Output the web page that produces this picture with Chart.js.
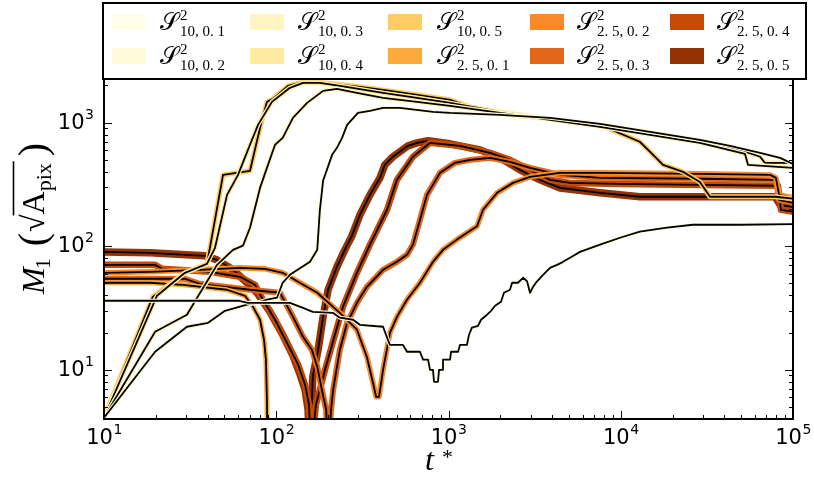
<!DOCTYPE html>
<html>
<head>
<meta charset="utf-8">
<script src="https://cdn.jsdelivr.net/npm/chart.js@4.4.1/dist/chart.umd.min.js"></script>
<style>
  html, body { margin: 0; padding: 0; background: #fff; }
  #chart { display: block; }
</style>
</head>
<body>
<canvas id="chart" width="814" height="481"></canvas>
<script>
// M1 against t* for each run, [t*, M1] pairs
const s10_01 = [[10,36.2],[60,36.2],[68.5,34.8],[120,34.8],[143,31.7],[163,29.4],[213,28.9],[234,26.4],[279,25.4],[306,23.1],[417,22.3],[440,18.2],[457,15.9],[544,15.9],[574,14.0],[683,14.0],[712,12.1],[761,12.1],[781,10.0],[813,10.0],[824,8.0],[869,8.0],[881,10.0],[917,10.0],[929,12.1],[1021,12.1],[1035,14.0],[1136,14.0],[1167,15.9],[1280,15.9],[1315,19.2],[1368,21.9],[1483,22.7],[1545,25.4],[1674,27.9],[1767,30.0],[1864,33.0],[2018,35.5],[2099,42.0],[2275,44.4],[2339,50.6],[2532,50.6],[2709,55.5],[2858,52],[2974,42],[3097,46.9],[3267,52],[3540,58.7],[3885,66.8],[4268,70.6],[4624,74.7],[5075,80.5],[5800,89.9],[7580,103],[9900,117],[12900,131],[18550,141],[26200,149],[49200,149],[100000,151]];
const s10_02 = [[10,4.1],[19.8,14.0],[30.3,22.3],[40.2,24.0],[50.4,30.0],[67.6,33.6],[77.3,34.8],[88.3,36.9],[101,38.3],[109,50.6],[120,58.7],[157,74.7],[173,93.4],[179,193],[187,338],[211,548],[225,624],[241,752],[258,958],[298,1198],[350,1244],[417,1315],[522,1315],[813,1222],[1021,1198],[1992,1154],[3885,1091],[7576,976],[14800,841],[28800,725],[43100,648],[64400,569],[84100,518],[100000,463]];
const s10_03 = [[10,4.1],[19.8,20.3],[30.3,27.9],[34.7,38.3],[41.2,56.5],[45.3,70.6],[56.1,93.4],[64.1,101],[70.4,141],[80.5,296],[88.3,430],[98.4,661],[109,752],[125,1091],[151,1443],[187,1803],[225,1874],[294,1738],[417,1585],[656,1469],[1021,1364],[1992,1198],[3885,1051],[7576,923],[14800,796],[28800,685],[52600,558],[54800,455],[100000,430]];
const s10_04 = [[10,4.1],[20.3,39.7],[29.5,60.9],[39.6,72.0],[44.1,97],[51.8,260],[60,377],[70.4,661],[78.4,958],[94.4,1469],[120,1910],[143,2094],[179,2094],[234,1982],[417,1738],[656,1585],[1021,1443],[1992,1222],[3885,1071],[7576,958],[14800,826],[28800,712],[49300,601],[64400,529],[68700,472],[100000,472]];
const s10_05 = [[10,4.1],[19.2,38.9],[29.5,60.9],[39.6,72.0],[41.2,97],[49.1,377],[70.4,407],[80.5,906],[88.3,1469],[95.7,1554],[117,1982],[137,2094],[168,2132],[214,2056],[306,1944],[417,1838],[656,1676],[1021,1527],[1334,1339],[2277,1154],[4440,1051],[7576,958],[12900,699],[14800,580],[17600,455],[23000,399],[28800,331],[33000,251],[78700,251],[100000,242]];
const s25_01 = [[10,50.6],[18.5,50.6],[28.8,48.7],[51.8,44.4],[65.9,39.7],[73.3,32.3],[80.5,25.4],[84.9,17.5],[87.1,12.1],[88.3,5.7],[89.5,1]];
const s25_02 = [[10,60.9],[18.5,62.0],[36,64.4],[61.6,66.8],[86.1,65.6],[109,60.9],[137,50.6],[173,42.0],[234,28.9],[294,21.1],[336,12.7],[364,7.9],[380,6.05],[395,6.05],[417,10.0],[457,19.9],[502,26.8],[574,36.9],[683,50.6],[813,74.7],[929,93.4],[1119,113],[1464,145],[1587,197],[1914,270],[2368,325],[2974,364],[4440,392],[7576,392],[28800,385],[73600,377],[79600,357],[83000,260],[100000,246]];
const s25_03 = [[10,54.5],[29.5,54.5],[36,49.6],[50.4,46.9],[70.4,44.4],[105,42.0],[125,26.8],[143,18.5],[161,14.5],[173,10.6],[184,6.9],[195,4.75],[200,2],[208,4.75],[214,6.9],[234,14.5],[258,24.0],[294,34.8],[336,46.9],[417,64.4],[502,74.7],[574,85.1],[622,103],[683,163],[750,260],[893,392],[1092,472],[1334,499],[1743,518],[2277,481],[2974,430],[4440,377],[7576,357],[28800,351],[79600,344],[83000,237],[100000,224]];
const s25_04 = [[10,70.6],[19.8,70.6],[21.7,65.6],[41.2,62.0],[61.6,56.5],[75.3,48.7],[83.7,36.9],[98.4,25.4],[117,15.9],[134,11.0],[147,7.57],[155,5.22],[159,2],[170,5.22],[192,10.0],[219,19.2],[244,32.3],[294,60.9],[350,103],[440,197],[502,344],[622,529],[781,685],[1167,648],[1743,569],[2277,499],[2974,414],[3885,344],[5075,325],[9900,319],[28800,313],[81800,308],[85100,197],[100000,190]];
const s25_05 = [[10,89.9],[18.5,88.3],[38.5,83.6],[45.3,77.5],[56.1,64.4],[67.6,50.6],[77.3,42.0],[92,29.4],[109,19.2],[125,13.0],[137,9.3],[147,6.9],[153,4.75],[157,2],[161,5.7],[163,8.8],[175,14.5],[187,26.8],[200,44.4],[225,68.1],[250,93.4],[275,121],[306,179],[350,260],[400,357],[427,455],[476,529],[522,580],[582,648],[656,685],[761,712],[1021,673],[1525,601],[1992,518],[2602,414],[3399,344],[4440,296],[7576,270],[12900,251],[28800,251],[78700,251],[84100,216],[100000,208]];

const runs = [s10_01, s10_02, s10_03, s10_04, s10_05, s25_01, s25_02, s25_03, s25_04, s25_05];
const runSubscripts = ['10, 0. 1', '10, 0. 2', '10, 0. 3', '10, 0. 4', '10, 0. 5',
                       '2. 5, 0. 1', '2. 5, 0. 2', '2. 5, 0. 3', '2. 5, 0. 4', '2. 5, 0. 5'];
const runColors = ['#fffee8', '#fffbda', '#fff5c2', '#feeaa0', '#fecb64',
                   '#fdaa3c', '#f88a2c', '#e3671b', '#c44b07', '#943405'];
const haloWidths = [4, 4, 4.5, 4.5, 5, 5, 5.5, 6, 6.5, 7.5];

const xDecades = [10, 100, 1000, 10000, 100000];
const xExponents = ['1', '2', '3', '4', '5'];
const yDecades = [10, 100, 1000];
const yExponents = ['1', '2', '3'];

const X_MIN = 10, X_MAX = 1e5, Y_MIN = 4, Y_MAX = 2250;

// each run: wide coloured stroke with a thin black core; darkest runs go down first
const datasets = [];
for (let i = runs.length - 1; i >= 0; i--) {
  const pts = runs[i].map(([t, m]) => ({ x: t, y: m }));
  const common = { data: pts, pointRadius: 0, pointHoverRadius: 0, tension: 0, fill: false,
                   clip: 0, borderJoinStyle: 'round', borderCapStyle: 'round' };
  datasets.push(Object.assign({ borderColor: runColors[i], borderWidth: haloWidths[i] }, common));
  datasets.push(Object.assign({ borderColor: '#000', borderWidth: 1.8 }, common));
}
datasets.forEach((d, k) => { d.order = datasets.length - k; });

const SERIF = '"Liberation Serif", "DejaVu Serif", serif';
const SANS = '"DejaVu Sans", sans-serif';

function minorValues(lo, hi) {
  const out = [];
  for (let e = -1; e <= 6; e++) {
    for (let k = 2; k <= 9; k++) {
      const v = k * Math.pow(10, e);
      if (v > lo && v < hi) out.push(v);
    }
  }
  return out;
}

function drawFrameAndTicks(chart) {
  const { ctx, chartArea: a, scales } = chart;
  const xs = scales.x, ys = scales.y;
  ctx.save();
  ctx.strokeStyle = '#000';
  ctx.lineWidth = 1;
  ctx.beginPath();
  xDecades.forEach(v => {
    const px = Math.round(xs.getPixelForValue(v)) + 0.5;
    ctx.moveTo(px, a.bottom); ctx.lineTo(px, a.bottom - 8);
  });
  minorValues(X_MIN, X_MAX).forEach(v => {
    const px = Math.round(xs.getPixelForValue(v)) + 0.5;
    ctx.moveTo(px, a.bottom); ctx.lineTo(px, a.bottom - 4);
  });
  yDecades.forEach(v => {
    const py = Math.round(ys.getPixelForValue(v)) + 0.5;
    ctx.moveTo(a.left, py); ctx.lineTo(a.left + 8, py);
    ctx.moveTo(a.right, py); ctx.lineTo(a.right - 8, py);
  });
  minorValues(Y_MIN, Y_MAX).forEach(v => {
    if (yDecades.includes(v)) return;
    const py = Math.round(ys.getPixelForValue(v)) + 0.5;
    ctx.moveTo(a.left, py); ctx.lineTo(a.left + 4, py);
    ctx.moveTo(a.right, py); ctx.lineTo(a.right - 4, py);
  });
  ctx.stroke();
  ctx.lineWidth = 2;
  ctx.strokeRect(a.left, a.top, a.right - a.left, a.bottom - a.top);

  // decade labels as 10 with a raised exponent
  ctx.fillStyle = '#000';
  ctx.textBaseline = 'alphabetic';
  ctx.textAlign = 'left';
  xDecades.forEach((v, i) => {
    const px = xs.getPixelForValue(v);
    ctx.font = '21px ' + SANS;
    const bw = ctx.measureText('10').width;
    ctx.font = '14px ' + SANS;
    const ew = ctx.measureText(xExponents[i]).width;
    const x0 = px - (bw + ew) / 2;
    ctx.font = '21px ' + SANS;
    ctx.fillText('10', x0, 444);
    ctx.font = '14px ' + SANS;
    ctx.fillText(xExponents[i], x0 + bw + 0.5, 434);
  });
  yDecades.forEach((v, i) => {
    const py = ys.getPixelForValue(v);
    ctx.font = '14px ' + SANS;
    const ew = ctx.measureText(yExponents[i]).width;
    ctx.font = '21px ' + SANS;
    const bw = ctx.measureText('10').width;
    const x0 = 94 - ew - bw - 0.5;
    ctx.fillText('10', x0, py + 6);
    ctx.font = '14px ' + SANS;
    ctx.fillText(yExponents[i], x0 + bw + 0.5, py - 4);
  });
  ctx.restore();
}

function drawTitles(chart) {
  const ctx = chart.ctx;
  ctx.save();
  ctx.fillStyle = '#000';
  ctx.strokeStyle = '#000';
  ctx.textAlign = 'left';
  ctx.textBaseline = 'alphabetic';

  // x title: t*
  ctx.font = 'italic 32px ' + SERIF;
  ctx.fillText('t', 425, 470);
  ctx.font = '22px ' + SERIF;
  ctx.fillText('*', 442, 464);

  // y title: M_1 ( sqrt(A_pix) ), reading bottom to top
  ctx.translate(44, 294);
  ctx.rotate(-Math.PI / 2);
  let u = 0;
  ctx.font = 'italic 32px ' + SERIF;
  ctx.fillText('M', u, 0); u += ctx.measureText('M').width;
  ctx.font = '22px ' + SERIF;
  ctx.fillText('1', u - 2, 6); u += ctx.measureText('1').width + 10;
  ctx.font = '40px ' + SERIF;
  ctx.fillText('(', u, 2); u += ctx.measureText('(').width + 1;
  ctx.font = '32px ' + SERIF;
  ctx.fillText('\u221A', u, 0);
  u += ctx.measureText('\u221A').width;
  const barStart = u - 1;
  ctx.fillText('A', u, 0); u += ctx.measureText('A').width;
  ctx.font = '22px ' + SERIF;
  ctx.fillText('pix', u, 7); u += ctx.measureText('pix').width;
  ctx.lineWidth = 1.6;
  ctx.beginPath();
  ctx.moveTo(barStart, -30.5); ctx.lineTo(u + 2, -30.5);
  ctx.stroke();
  u += 7;
  ctx.font = '40px ' + SERIF;
  ctx.fillText(')', u, 2);
  ctx.restore();
}

const legendBox = { x: 103, y: 3, w: 703, h: 76 };
const legendSwatchX = [112, 250, 388, 530, 670];
const legendTextX = [160, 298, 437, 577, 717];
const legendRowY = [22, 56];

function drawLegend(chart) {
  const ctx = chart.ctx;
  ctx.save();
  ctx.fillStyle = '#fff';
  ctx.fillRect(legendBox.x, legendBox.y, legendBox.w, legendBox.h);
  ctx.strokeStyle = '#000';
  ctx.lineWidth = 2;
  ctx.strokeRect(legendBox.x, legendBox.y, legendBox.w, legendBox.h);
  ctx.textAlign = 'left';
  ctx.textBaseline = 'alphabetic';
  runs.forEach((_, i) => {
    const col = Math.floor(i / 2), row = i % 2;
    const cy = legendRowY[row];
    ctx.fillStyle = runColors[i];
    ctx.fillRect(legendSwatchX[col], cy - 8, 34, 16);
    ctx.fillStyle = '#000';
    let x = legendTextX[col];
    ctx.font = '24px ' + SERIF;
    ctx.fillText('\u{1D4AE}', x, cy + 8);
    x += ctx.measureText('\u{1D4AE}').width + 1;
    ctx.font = '15px ' + SERIF;
    ctx.fillText('2', x, cy - 2);
    ctx.fillText(runSubscripts[i], x, cy + 14);
  });
  ctx.restore();
}

const decorations = {
  id: 'decorations',
  afterDatasetsDraw(chart) {
    drawFrameAndTicks(chart);
    drawTitles(chart);
    drawLegend(chart);
  }
};

new Chart(document.getElementById('chart'), {
  type: 'line',
  data: { datasets },
  options: {
    responsive: false,
    animation: false,
    devicePixelRatio: 1,
    events: [],
    layout: { padding: { left: 104, right: 21, top: 79, bottom: 62 } },
    plugins: { legend: { display: false }, tooltip: { enabled: false } },
    scales: {
      x: { type: 'logarithmic', min: X_MIN, max: X_MAX, display: false },
      y: { type: 'logarithmic', min: Y_MIN, max: Y_MAX, display: false }
    }
  },
  plugins: [decorations]
});
</script>
</body>
</html>
